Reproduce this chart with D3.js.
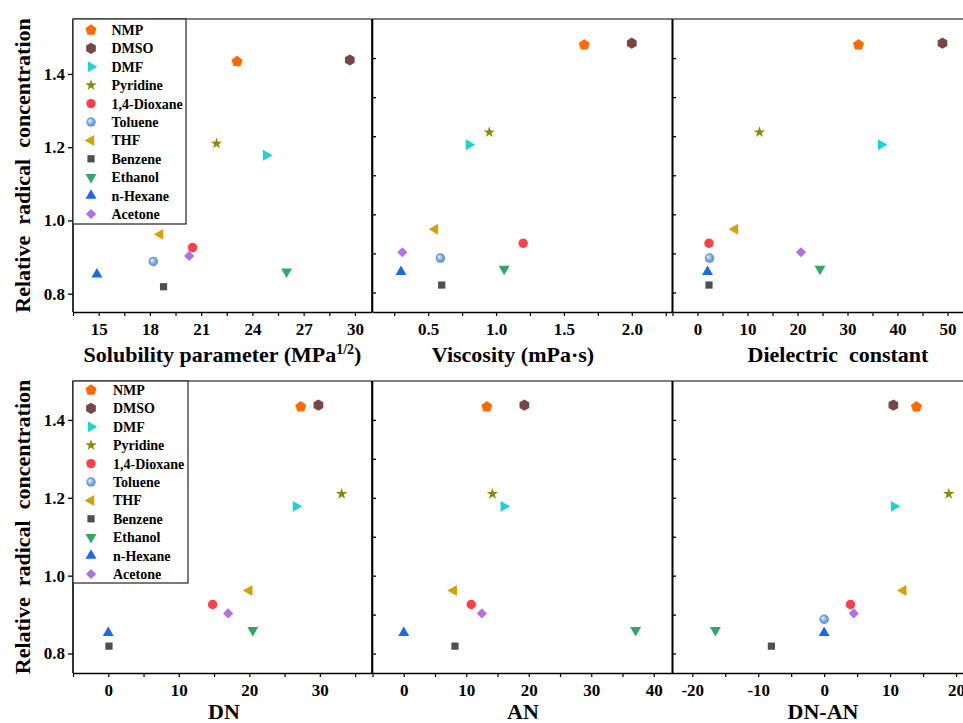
<!DOCTYPE html>
<html>
<head>
<meta charset="utf-8">
<script src="https://cdn.jsdelivr.net/npm/d3@7"></script>
<style>
  body { margin: 0; background: #fff; }
  text { font-family: "Liberation Serif", "Times New Roman", serif; font-weight: bold; fill: #000; }
</style>
</head>
<body>
<div id="viz"></div>
<script>
// solvents and the measured relative radical concentration
const solvents = ["NMP", "DMSO", "DMF", "Pyridine", "1,4-Dioxane", "Toluene", "THF", "Benzene", "Ethanol", "n-Hexane", "Acetone"];
const relConc = [1.434, 1.438, 1.178, 1.21, 0.926, 0.888, 0.962, 0.819, 0.860, 0.853, 0.903];

// solvent properties (null = not plotted)
const solubility = [23.1, 29.7, 24.8, 21.9, 20.5, 18.2, 18.6, 18.8, 26.0, 14.9, 20.3];
const viscosity = [1.65, 2.0, 0.80, 0.95, 1.2, 0.59, 0.55, 0.60, 1.06, 0.30, 0.31];
const dielectric = [32.2, 49.0, 36.7, 12.4, 2.3, 2.4, 7.5, 2.3, 24.5, 2.0, 20.7];
const donorNumber = [27.3, 29.8, 26.6, 33.1, 14.8, null, 20.0, 0.1, 20.5, 0, 17.0];
const acceptorNumber = [13.3, 19.3, 16.0, 14.2, 10.8, null, 8.0, 8.2, 37.1, 0, 12.5];
const dnMinusAn = [14.0, 10.5, 10.6, 18.9, 4.0, 0, 12.0, -8.0, -16.5, 0, 4.5];

const colors = ["#ff6a00", "#774646", "#1ed2d6", "#8a8a00", "#ff3f48", "#5d9ad6", "#d8a000", "#4f4f4f", "#2fa866", "#1a6ae6", "#b46ee6"];
const shapes = ["pentagon", "hexagon", "triRight", "star", "circle", "sphere", "triLeft", "square", "triDown", "triUp", "diamond"];

var svg = d3.select("#viz").append("svg")
  .attr("width", 963)
  .attr("height", 723);

// shaded ball for toluene
var grad = svg.append("defs").append("radialGradient")
  .attr("id", "ball")
  .attr("cx", "50%").attr("cy", "50%").attr("r", "55%")
  .attr("fx", "35%").attr("fy", "35%");
grad.append("stop").attr("offset", "0%").attr("stop-color", "#ffffff");
grad.append("stop").attr("offset", "35%").attr("stop-color", "#9cc3ec");
grad.append("stop").attr("offset", "100%").attr("stop-color", "#3f7fc8");

function polygon(n, r) {
  var pts = d3.range(n).map(function (k) {
    var a = -Math.PI / 2 + k * 2 * Math.PI / n;
    return [r * Math.cos(a), r * Math.sin(a)];
  });
  return "M" + pts.join("L") + "Z";
}

function marker(shape) {
  switch (shape) {
    case "pentagon": return { d: polygon(5, 5.8), rot: 0 };
    case "hexagon": return { d: polygon(6, 5.6), rot: 0 };
    case "triRight": return { d: d3.symbol(d3.symbolTriangle, 52)(), rot: 90 };
    case "triLeft": return { d: d3.symbol(d3.symbolTriangle, 52)(), rot: -90 };
    case "triDown": return { d: d3.symbol(d3.symbolTriangle, 52)(), rot: 180 };
    case "triUp": return { d: d3.symbol(d3.symbolTriangle, 52)(), rot: 0 };
    case "star": return { d: d3.symbol(d3.symbolStar, 40)(), rot: 0 };
    case "square": return { d: d3.symbol(d3.symbolSquare, 52)(), rot: 0 };
    case "diamond": return { d: d3.symbol(d3.symbolSquare, 52)(), rot: 45 };
    default: return { d: d3.symbol(d3.symbolCircle, 70)(), rot: 0 };
  }
}

function drawMarker(g, i, cx, cy) {
  var m = marker(shapes[i]);
  g.append("path")
    .attr("d", m.d)
    .attr("transform", "translate(" + cx + "," + cy + ") rotate(" + m.rot + ")")
    .style("fill", shapes[i] == "sphere" ? "url(#ball)" : colors[i]);
}

// plain hyphen for negatives, like the original figure
var intFmt = function (d) { return String(d); };

var panels = [
  { vals: solubility, left: 73, top: 19, w: 299, h: 293, xDomain: [13.5, 31], yDomain: [0.75, 1.55],
    ticks: [15, 18, 21, 24, 27, 30], minor: d3.range(13.5, 31, 1.5), fmt: intFmt,
    title: "Solubility parameter (MPa", sup: "1/2", titleX: 222.5, titleY: 362, outerY: true, legend: [73, 186, 224, 30, 111.5] },
  { vals: viscosity, left: 372.5, top: 19, w: 300, h: 293, xDomain: [0.09, 2.3], yDomain: [0.75, 1.5],
    ticks: [0.5, 1.0, 1.5, 2.0], minor: d3.range(0.25, 2.3, 0.25), fmt: d3.format(".1f"),
    title: "Viscosity (mPa\u00b7s)", titleX: 513, titleY: 362 },
  { vals: dielectric, left: 672.5, top: 19, w: 300, h: 293, xDomain: [-5, 55], yDomain: [0.75, 1.5],
    ticks: [0, 10, 20, 30, 40, 50], minor: d3.range(-5, 56, 5), fmt: intFmt,
    title: "Dielectric  constant", titleX: 838, titleY: 362 },
  { vals: donorNumber, left: 73, top: 381, w: 299, h: 292, xDomain: [-5, 37.4], yDomain: [0.75, 1.5],
    ticks: [0, 10, 20, 30], minor: d3.range(-5, 37, 5), fmt: intFmt,
    title: "DN", titleX: 224, titleY: 719, outerY: true, legend: [73, 188, 583, 390, 113] },
  { vals: acceptorNumber, left: 372.5, top: 381, w: 300, h: 292, xDomain: [-5, 43], yDomain: [0.75, 1.5],
    ticks: [0, 10, 20, 30, 40], minor: d3.range(-5, 43, 5), fmt: intFmt,
    title: "AN", titleX: 523, titleY: 719 },
  { vals: dnMinusAn, left: 672.5, top: 381, w: 300, h: 292, xDomain: [-23, 22.5], yDomain: [0.75, 1.5],
    ticks: [-20, -10, 0, 10, 20], minor: d3.range(-20, 23, 5), fmt: intFmt,
    title: "DN-AN", titleX: 823, titleY: 719 }
];

panels.forEach(function (p) {
  var g = svg.append("g");
  var bottom = p.top + p.h;
  var x = d3.scaleLinear().domain(p.xDomain).range([p.left, p.left + p.w]);
  var y = d3.scaleLinear().domain(p.yDomain).range([bottom, p.top]);

  // frame: grey top line, black sides
  g.append("line").attr("x1", p.left).attr("x2", p.left + p.w).attr("y1", p.top).attr("y2", p.top)
    .style("stroke", "#555").style("stroke-width", 1.3);
  g.append("line").attr("x1", p.left + p.w).attr("x2", p.left + p.w).attr("y1", p.top).attr("y2", bottom)
    .style("stroke", "#000").style("stroke-width", 1.6);
  g.append("line").attr("x1", p.left).attr("x2", p.left).attr("y1", p.top).attr("y2", bottom)
    .style("stroke", "#000").style("stroke-width", 1.6);

  // x axis
  var minorTicks = p.minor.filter(function (v) { return p.ticks.every(function (t) { return Math.abs(t - v) > 1e-6; }); });
  g.append("g")
    .attr("transform", "translate(0," + bottom + ")")
    .call(d3.axisBottom(x).tickValues(minorTicks).tickSize(4).tickFormat(""))
    .call(function (a) { a.select(".domain").remove(); });
  var xa = g.append("g")
    .attr("transform", "translate(0," + bottom + ")")
    .call(d3.axisBottom(x).tickValues(p.ticks).tickSize(4).tickSizeOuter(0).tickPadding(7).tickFormat(p.fmt));
  xa.select(".domain").style("stroke-width", 1.6);
  xa.selectAll("text").style("font-size", "17px").style("font-family", null);
  g.selectAll(".tick line").style("stroke-width", 1.2);

  // y axis
  if (p.outerY) {
    var ya = g.append("g")
      .attr("transform", "translate(" + p.left + ",0)")
      .call(d3.axisLeft(y).tickValues([0.8, 1.0, 1.2, 1.4]).tickSize(5).tickSizeOuter(0).tickPadding(3).tickFormat(d3.format(".1f")));
    ya.select(".domain").remove();
    ya.selectAll(".tick line").style("stroke-width", 1.3);
    ya.selectAll("text").style("font-size", "17px").style("font-family", null);

    g.append("text")
      .attr("transform", "translate(29.5," + (p.top + p.h / 2) + ") rotate(-90)")
      .style("text-anchor", "middle")
      .style("font-size", "22px")
      .style("white-space", "pre")
      .text("Relative  radical  concentration");
  } else {
    var yi = g.append("g")
      .attr("transform", "translate(" + p.left + ",0)")
      .call(d3.axisRight(y).tickValues([0.8, 0.9, 1.0, 1.1, 1.2, 1.3, 1.4]).tickSize(3.5).tickFormat(""));
    yi.select(".domain").remove();
    yi.selectAll(".tick line").style("stroke-width", 1.3);
  }

  // x title
  var t = g.append("text")
    .attr("x", p.titleX)
    .attr("y", p.titleY)
    .style("text-anchor", "middle")
    .style("font-size", "22px")
    .style("white-space", "pre")
    .text(p.title);
  if (p.sup) {
    t.append("tspan").attr("dy", -8).style("font-size", "14px").text(p.sup);
    t.append("tspan").attr("dy", 8).text(")");
  }

  // points
  var pts = g.append("g");
  p.vals.forEach(function (v, i) {
    if (v === null) return;
    drawMarker(pts, i, x(v), y(relConc[i]));
  });

  // legend
  if (p.legend) {
    var L = p.legend;
    g.append("rect")
      .attr("x", L[0]).attr("y", p.top)
      .attr("width", L[1] - L[0]).attr("height", L[2] - p.top)
      .style("fill", "#fff").style("stroke", "#333").style("stroke-width", 1.3);
    solvents.forEach(function (s, i) {
      var ly = L[3] + i * 18.4;
      drawMarker(g, i, 91, ly);
      g.append("text")
        .attr("x", L[4]).attr("y", ly)
        .attr("dy", "0.35em")
        .style("font-size", "14px")
        .text(s);
    });
  }
});
</script>
</body>
</html>
